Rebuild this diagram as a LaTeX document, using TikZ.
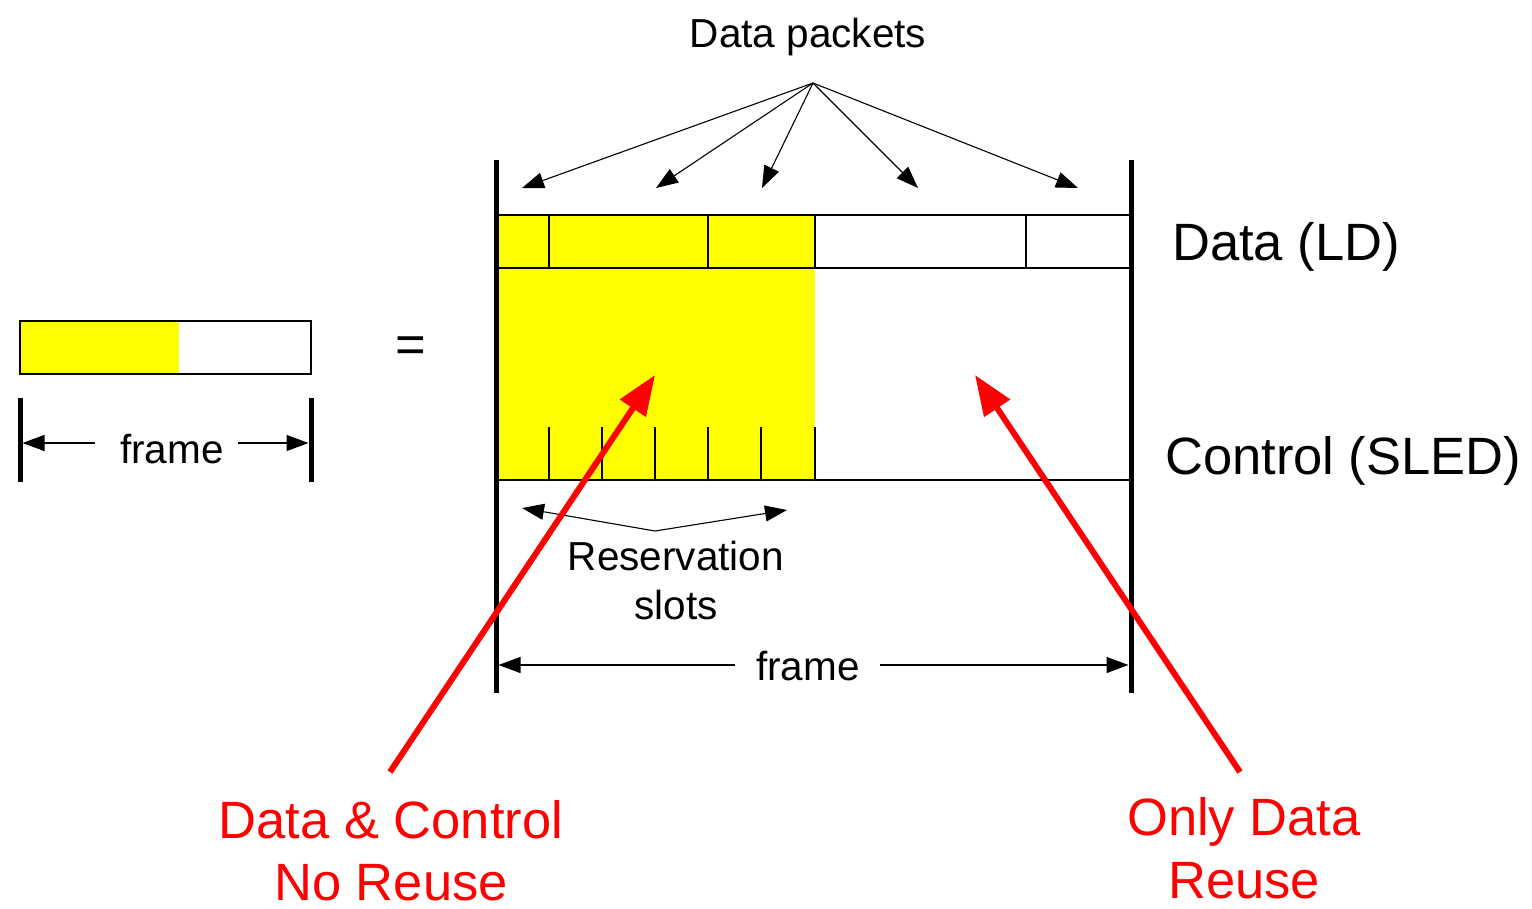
\documentclass[tikz,border=0pt]{standalone}
\usepackage{fontspec}
\setmainfont{Liberation Sans}
\usetikzlibrary{arrows.meta}
\definecolor{slotyellow}{RGB}{255,255,0}
\definecolor{callred}{RGB}{255,0,0}
\tikzset{
  thin line/.style={line width=1.1pt, draw=black},
  bar/.style={line width=5pt, draw=black},
  ptr/.style={line width=1.1pt, -{Triangle[length=22pt,width=16pt]}},
  redptr/.style={line width=6pt, draw=callred, -{Triangle[length=40pt,width=30pt]}},
  lbl/.style={inner sep=0pt, anchor=base, font=\fontsize{40.5}{44}\selectfont},
  biglbl/.style={inner sep=0pt, anchor=base, font=\fontsize{52.5}{56}\selectfont},
  redlbl/.style={biglbl, text=callred},
}
\begin{document}
\begin{tikzpicture}[x=1pt,y=-1pt]
\useasboundingbox (0,0) rectangle (1532,908);

% ---- small legend bar and its frame
\fill[slotyellow] (20,321) rectangle (179,374);
\draw[thin line] (20,321) rectangle (311,374);
\draw[bar] (20,398) -- (20,482);
\draw[bar] (311,398) -- (311,482);
\node[lbl] (fsmall) at (172,463) {frame};
\coordinate (fsL) at (22.5,443);
\coordinate (fsR) at (308.5,443);
\coordinate (fsLs) at (95,443);
\coordinate (fsRs) at (238,443);
\draw[ptr] (fsLs) -- (fsL);
\draw[ptr] (fsRs) -- (fsR);

\node[biglbl] (eq) at (411,362) {=};

% ---- main frame: yellow reserved part
\fill[slotyellow] (496,215) rectangle (815,480);
% data row
\draw[thin line] (496,215) -- (1131,215);
\draw[thin line] (496,268) -- (1131,268);
\foreach \x in {549,708,815,1026}
  \draw[thin line] (\x,215) -- (\x,268);
% control row
\draw[thin line] (496,480) -- (1131,480);
\foreach \x in {549,602,655,708,761,815}
  \draw[thin line] (\x,427) -- (\x,480);
% frame borders
\draw[bar] (496,160) -- (496,693);
\draw[bar] (1131,160) -- (1131,693);

% row labels
\node[biglbl, anchor=base west] (ld) at (1172,260) {Data (LD)};
\node[biglbl, anchor=base west] (sled) at (1165,474) {Control (SLED)};

% ---- data packets
\node[lbl] (dp) at (808,47) {Data packets};
\coordinate (src) at (813,83);
\foreach \n/\x in {p1/522,p2/656,p3/762,p4/918,p5/1078}
  \coordinate (\n) at (\x,188);
\foreach \n in {p1,p2,p3,p4,p5}
  \draw[ptr] (src) -- (\n);

% ---- reservation slots
\node[lbl] (rs1) at (676,570) {Reservation};
\node[lbl] (rs2) at (676,619) {slots};
\coordinate (rsrc) at (655,531);
\coordinate (rl) at (522,508);
\coordinate (rr) at (787,510);
\draw[ptr] (rsrc) -- (rl);
\draw[ptr] (rsrc) -- (rr);

% ---- frame length
\node[lbl] (fbig) at (808,680) {frame};
\coordinate (fbL) at (498.5,665);
\coordinate (fbR) at (1128.5,665);
\coordinate (fbLs) at (735,665);
\coordinate (fbRs) at (880,665);
\draw[ptr] (fbLs) -- (fbL);
\draw[ptr] (fbRs) -- (fbR);

% ---- callouts
\node[redlbl] (nr1) at (391,838) {Data \& Control};
\node[redlbl] (nr2) at (391,900) {No Reuse};
\node[redlbl] (or1) at (1244,835) {Only Data};
\node[redlbl] (or2) at (1244,898) {Reuse};
\coordinate (nrs) at (390,772);
\coordinate (nrt) at (655,375);
\coordinate (ors) at (1240,772);
\coordinate (ort) at (975,375);
\draw[redptr] (nrs) -- (nrt);
\draw[redptr] (ors) -- (ort);
\end{tikzpicture}
\end{document}
